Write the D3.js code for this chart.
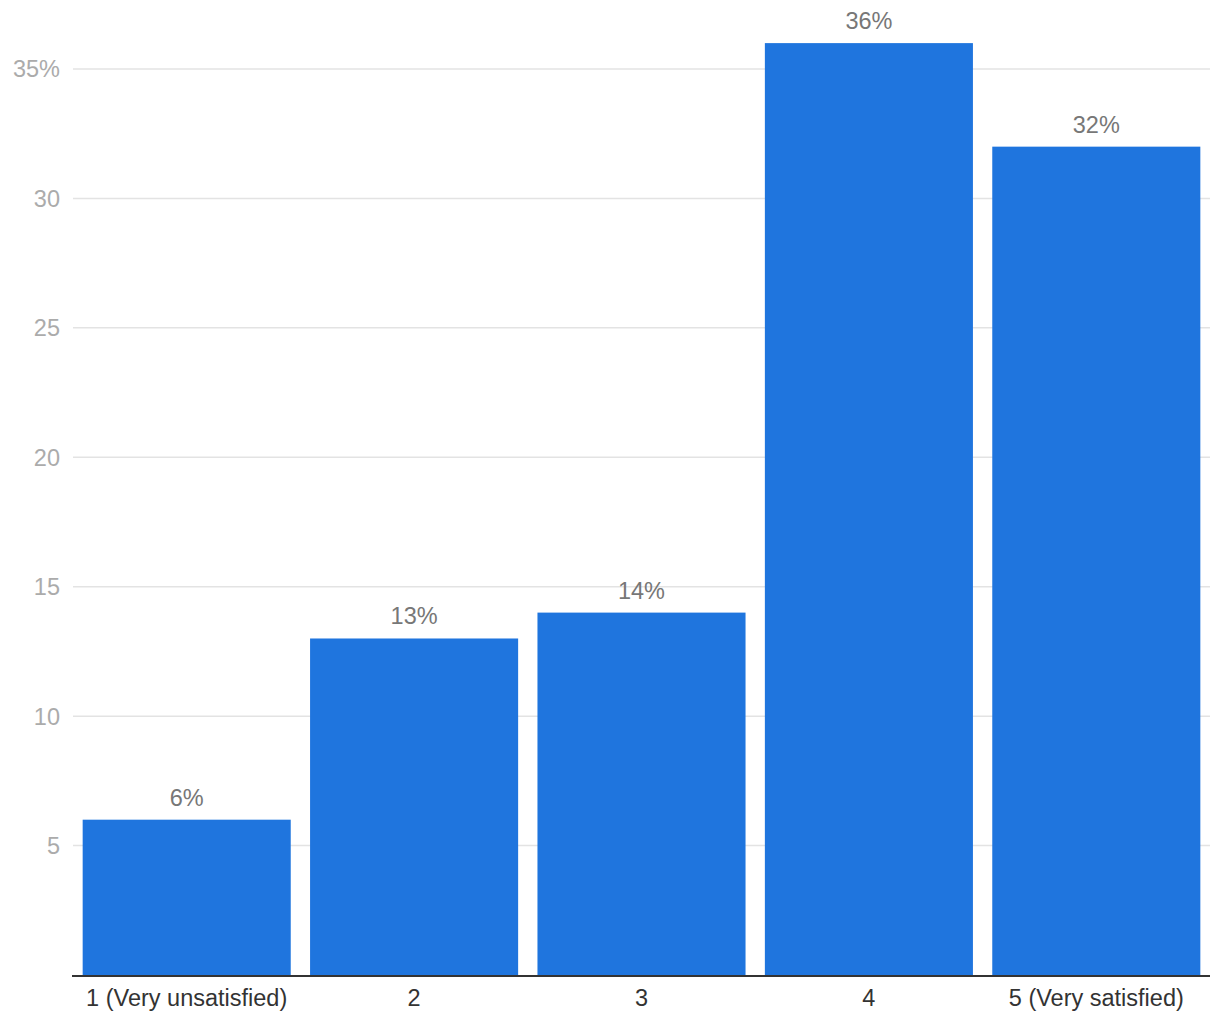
<!DOCTYPE html>
<html><head><meta charset="utf-8">
<script src="https://cdn.jsdelivr.net/npm/d3@7/dist/d3.min.js"></script>
<style>body{margin:0;background:#fff;font-family:"Helvetica Neue",Helvetica,Arial,"Liberation Sans",sans-serif;}</style>
</head><body>
<svg id="c" width="1220" height="1020"></svg>
<script>
const categories = ["1 (Very unsatisfied)", "2", "3", "4", "5 (Very satisfied)"];
const values = [6, 13, 14, 36, 32];
const yTicks = [5, 10, 15, 20, 25, 30, 35];
const yTickLabels = ["5", "10", "15", "20", "25", "30", "35%"];

(function () {
const svg = d3.select("#c");
const mLeft = 73, mRight = 1210, mTop = 69, mBottom = 975;
const fs = 23.5;
const x = d3.scaleBand().domain(categories).range([mLeft, mRight]).paddingInner(0.085).paddingOuter(0.0425);
const y = d3.scaleLinear().domain([0, 35]).range([mBottom, mTop]);

// gridlines
svg.append("g").selectAll("line").data(yTicks).join("line")
  .attr("x1", mLeft).attr("x2", mRight)
  .attr("y1", d => y(d)).attr("y2", d => y(d))
  .attr("stroke", "#e3e3e3").attr("stroke-width", 1.5);

// y labels
svg.append("g").selectAll("text").data(yTicks).join("text")
  .attr("x", 60).attr("y", d => y(d)).attr("dy", "0.36em")
  .attr("text-anchor", "end").attr("fill", "#ababab").attr("font-size", fs)
  .text((d, i) => yTickLabels[i]);

// bars
svg.append("g").selectAll("rect").data(values).join("rect")
  .attr("x", (d, i) => x(categories[i])).attr("width", x.bandwidth())
  .attr("y", d => y(d)).attr("height", d => y(0) - y(d))
  .attr("fill", "#1f75de");

// value labels
svg.append("g").selectAll("text").data(values).join("text")
  .attr("x", (d, i) => x(categories[i]) + x.bandwidth() / 2)
  .attr("y", d => y(d) - 14)
  .attr("text-anchor", "middle").attr("fill", "#777").attr("font-size", fs)
  .text(d => d + "%");

// x axis line
svg.append("line").attr("x1", mLeft - 1).attr("x2", mRight).attr("y1", mBottom + 1).attr("y2", mBottom + 1)
  .attr("stroke", "#333").attr("stroke-width", 2);

// x labels
svg.append("g").selectAll("text").data(categories).join("text")
  .attr("x", d => x(d) + x.bandwidth() / 2).attr("y", 1006)
  .attr("text-anchor", "middle").attr("fill", "#333").attr("font-size", fs)
  .text(d => d);
})();
</script>
</body></html>
